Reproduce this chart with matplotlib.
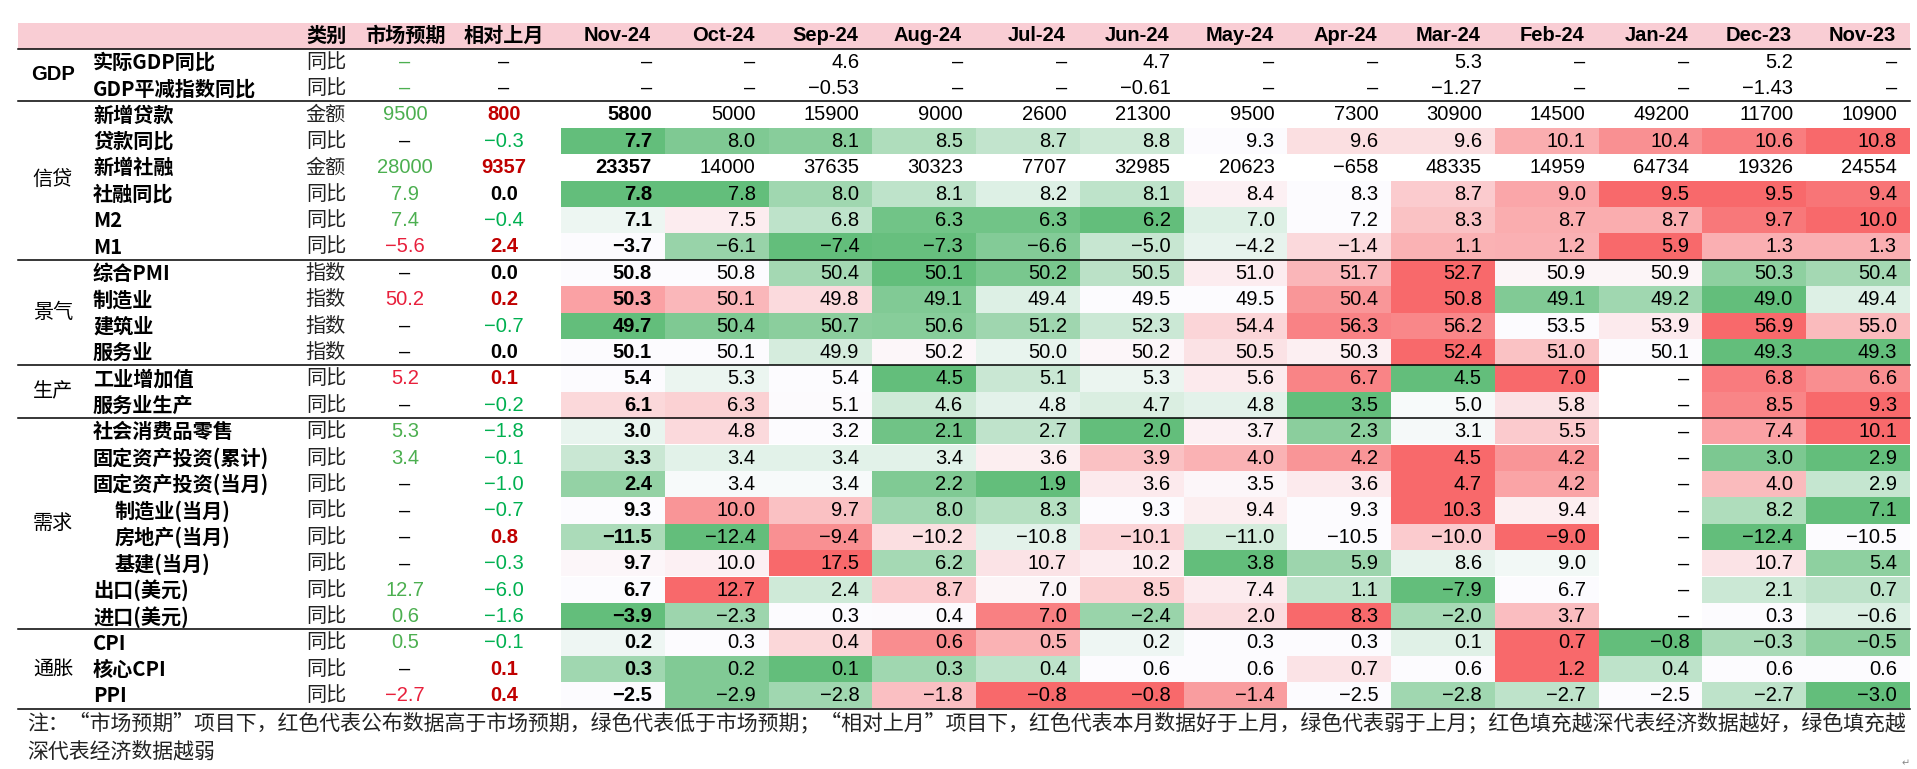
import numpy as np
import matplotlib
matplotlib.use("Agg")
import matplotlib.pyplot as plt
from matplotlib.patches import Rectangle
from matplotlib.colors import LinearSegmentedColormap, TwoSlopeNorm

plt.rcParams['font.family'] = ['Noto Sans CJK SC', 'DejaVu Sans']

# 表头月份
months = ["Nov-24", "Oct-24", "Sep-24", "Aug-24", "Jul-24", "Jun-24", "May-24",
          "Apr-24", "Mar-24", "Feb-24", "Jan-24", "Dec-23", "Nov-23"]

# 分组
group_names = ["GDP", "信贷", "景气", "生产", "需求", "通胀"]
group_sizes = [2, 6, 4, 2, 8, 3]

# 指标名称 / 类别
row_names = ["实际GDP同比", "GDP平减指数同比",
             "新增贷款", "贷款同比", "新增社融", "社融同比", "M2", "M1",
             "综合PMI", "制造业", "建筑业", "服务业",
             "工业增加值", "服务业生产",
             "社会消费品零售", "固定资产投资(累计)", "固定资产投资(当月)",
             "制造业(当月)", "房地产(当月)", "基建(当月)", "出口(美元)", "进口(美元)",
             "CPI", "核心CPI", "PPI"]
row_kinds = ["同比", "同比",
             "金额", "同比", "金额", "同比", "同比", "同比",
             "指数", "指数", "指数", "指数",
             "同比", "同比",
             "同比", "同比", "同比", "同比", "同比", "同比", "同比", "同比",
             "同比", "同比", "同比"]
sub_rows = ["制造业(当月)", "房地产(当月)", "基建(当月)"]

# 市场预期 / 相对上月
expect = ["–", "–",
          "9500", "–", "28000", "7.9", "7.4", "-5.6",
          "–", "50.2", "–", "–",
          "5.2", "–",
          "5.3", "3.4", "–", "–", "–", "–", "12.7", "0.6",
          "0.5", "–", "-2.7"]
mom = ["–", "–",
       "800", "-0.3", "9357", "0.0", "-0.4", "2.4",
       "0.0", "0.2", "-0.7", "0.0",
       "0.1", "-0.2",
       "-1.8", "-0.1", "-1.0", "-0.7", "0.8", "-0.3", "-6.0", "-1.6",
       "-0.1", "0.1", "0.4"]

# 各月数据 (Nov-24 ... Nov-23)
gdp_real = ["–", "–", "4.6", "–", "–", "4.7", "–", "–", "5.3", "–", "–", "5.2", "–"]
gdp_defl = ["–", "–", "-0.53", "–", "–", "-0.61", "–", "–", "-1.27", "–", "–", "-1.43", "–"]
new_loans = ["5800", "5000", "15900", "9000", "2600", "21300", "9500", "7300", "30900", "14500", "49200", "11700", "10900"]
loan_yoy = ["7.7", "8.0", "8.1", "8.5", "8.7", "8.8", "9.3", "9.6", "9.6", "10.1", "10.4", "10.6", "10.8"]
new_tsf = ["23357", "14000", "37635", "30323", "7707", "32985", "20623", "-658", "48335", "14959", "64734", "19326", "24554"]
tsf_yoy = ["7.8", "7.8", "8.0", "8.1", "8.2", "8.1", "8.4", "8.3", "8.7", "9.0", "9.5", "9.5", "9.4"]
m2 = ["7.1", "7.5", "6.8", "6.3", "6.3", "6.2", "7.0", "7.2", "8.3", "8.7", "8.7", "9.7", "10.0"]
m1 = ["-3.7", "-6.1", "-7.4", "-7.3", "-6.6", "-5.0", "-4.2", "-1.4", "1.1", "1.2", "5.9", "1.3", "1.3"]
pmi_comp = ["50.8", "50.8", "50.4", "50.1", "50.2", "50.5", "51.0", "51.7", "52.7", "50.9", "50.9", "50.3", "50.4"]
pmi_mfg = ["50.3", "50.1", "49.8", "49.1", "49.4", "49.5", "49.5", "50.4", "50.8", "49.1", "49.2", "49.0", "49.4"]
pmi_cons = ["49.7", "50.4", "50.7", "50.6", "51.2", "52.3", "54.4", "56.3", "56.2", "53.5", "53.9", "56.9", "55.0"]
pmi_serv = ["50.1", "50.1", "49.9", "50.2", "50.0", "50.2", "50.5", "50.3", "52.4", "51.0", "50.1", "49.3", "49.3"]
ind_va = ["5.4", "5.3", "5.4", "4.5", "5.1", "5.3", "5.6", "6.7", "4.5", "7.0", "–", "6.8", "6.6"]
serv_prod = ["6.1", "6.3", "5.1", "4.6", "4.8", "4.7", "4.8", "3.5", "5.0", "5.8", "–", "8.5", "9.3"]
retail = ["3.0", "4.8", "3.2", "2.1", "2.7", "2.0", "3.7", "2.3", "3.1", "5.5", "–", "7.4", "10.1"]
fai_ytd = ["3.3", "3.4", "3.4", "3.4", "3.6", "3.9", "4.0", "4.2", "4.5", "4.2", "–", "3.0", "2.9"]
fai_month = ["2.4", "3.4", "3.4", "2.2", "1.9", "3.6", "3.5", "3.6", "4.7", "4.2", "–", "4.0", "2.9"]
fai_mfg = ["9.3", "10.0", "9.7", "8.0", "8.3", "9.3", "9.4", "9.3", "10.3", "9.4", "–", "8.2", "7.1"]
fai_re = ["-11.5", "-12.4", "-9.4", "-10.2", "-10.8", "-10.1", "-11.0", "-10.5", "-10.0", "-9.0", "–", "-12.4", "-10.5"]
fai_infra = ["9.7", "10.0", "17.5", "6.2", "10.7", "10.2", "3.8", "5.9", "8.6", "9.0", "–", "10.7", "5.4"]
exports = ["6.7", "12.7", "2.4", "8.7", "7.0", "8.5", "7.4", "1.1", "-7.9", "6.7", "–", "2.1", "0.7"]
imports = ["-3.9", "-2.3", "0.3", "0.4", "7.0", "-2.4", "2.0", "8.3", "-2.0", "3.7", "–", "0.3", "-0.6"]
cpi = ["0.2", "0.3", "0.4", "0.6", "0.5", "0.2", "0.3", "0.3", "0.1", "0.7", "-0.8", "-0.3", "-0.5"]
core_cpi = ["0.3", "0.2", "0.1", "0.3", "0.4", "0.6", "0.6", "0.7", "0.6", "1.2", "0.4", "0.6", "0.6"]
ppi = ["-2.5", "-2.9", "-2.8", "-1.8", "-0.8", "-0.8", "-1.4", "-2.5", "-2.8", "-2.7", "-2.5", "-2.7", "-3.0"]

table = [gdp_real, gdp_defl, new_loans, loan_yoy, new_tsf, tsf_yoy, m2, m1,
         pmi_comp, pmi_mfg, pmi_cons, pmi_serv, ind_va, serv_prod,
         retail, fai_ytd, fai_month, fai_mfg, fai_re, fai_infra, exports, imports,
         cpi, core_cpi, ppi]

note1 = ("注：“市场预期”项目下，红色代表公布数据高于市场预期，绿色代表低于市场预期；"
         "“相对上月”项目下，红色代表本月数据好于上月，绿色代表弱于上月；红色填充越深代表经济数据越好，绿色填充越")
note2 = "深代表经济数据越弱"


def num(s):
    return None if s == "–" else float(s)


def show(s):
    return s.replace("-", "−")


# excel 风格 绿-白-红 色阶
cmap = LinearSegmentedColormap.from_list("gwr", ["#63BE7B", "#FCFCFF", "#F8696B"])

W, H = 1917, 769
fig = plt.figure(figsize=(W / 100, H / 100), dpi=100)
ax = fig.add_axes([0, 0, 1, 1])
ax.set_xlim(0, W)
ax.set_ylim(H, 0)
ax.axis('off')

left, right = 18, 1910
head_top, head_h = 22.5, 26.0
row_h = 26.4
body_top = head_top + head_h
col0 = 561
col_w = (right - col0) / len(months)
x_group, x_name, x_kind, x_exp, x_mom = 53, 93, 326, 405, 504

num_font = ['Liberation Sans', 'Noto Sans CJK SC']
fs = 14.5

# 表头
ax.add_patch(Rectangle((left, head_top), right - left, head_h, color="#F9CDD4", lw=0))
hy = head_top + head_h / 2
for x, t in [(x_kind, "类别"), (x_exp, "市场预期"), (x_mom, "相对上月")]:
    ax.text(x, hy, t, ha='center', va='center', fontsize=14.5, fontweight='bold')
for j, m in enumerate(months):
    ax.text(col0 + (j + 1) * col_w - 14, hy, m, ha='right', va='center',
            fontsize=fs, fontweight='bold', family=num_font)

# 分组
i0 = 0
ax.plot([left, right], [body_top, body_top], color='black', lw=1.1)
for g, n in zip(group_names, group_sizes):
    yc = body_top + (i0 + n / 2) * row_h
    ax.text(x_group, yc, g, ha='center', va='center', fontsize=14.5,
            fontweight='bold' if g == "GDP" else 'light',
            family=num_font if g == "GDP" else None)
    i0 += n
    yb = body_top + i0 * row_h
    ax.plot([left, right], [yb, yb], color='black', lw=1.1)

row_group = [g for g, n in zip(group_names, group_sizes) for _ in range(n)]

for i, name in enumerate(row_names):
    top = body_top + i * row_h
    yc = top + row_h / 2 + 0.5
    vals = table[i]
    nums = [num(v) for v in vals]

    ax.text(x_name + (22 if name in sub_rows else 0), yc, name, ha='left', va='center',
            fontsize=14.5, fontweight='bold')
    ax.text(x_kind, yc, row_kinds[i], ha='center', va='center', fontsize=14.5,
            fontweight='light', color='#222222')

    # 市场预期: 高于预期红, 低于预期绿
    e = num(expect[i])
    if e is None:
        ec = '#4CAF50' if row_group[i] == "GDP" else 'black'
    else:
        ec = '#E8203C' if nums[0] > e else '#4CAF50'
    ax.text(x_exp, yc, show(expect[i]), ha='center', va='center', fontsize=fs,
            color=ec, family=num_font)

    # 相对上月
    d = num(mom[i])
    if d is None or d == 0:
        mc = 'black'
    else:
        mc = '#C00000' if d > 0 else '#00B050'
    ax.text(x_mom, yc, show(mom[i]), ha='center', va='center', fontsize=fs,
            color=mc, family=num_font,
            fontweight='bold' if (d is not None and d >= 0) else 'normal')

    heat = row_group[i] != "GDP" and row_kinds[i] != "金额"
    valid = [v for v in nums if v is not None]
    norm = TwoSlopeNorm(vmin=min(valid), vcenter=float(np.median(valid)), vmax=max(valid)) if heat else None

    for j, v in enumerate(nums):
        x = col0 + j * col_w
        if heat and v is not None:
            ax.add_patch(Rectangle((x, top), col_w, row_h, color=cmap(norm(v)), lw=0))
        ax.text(x + col_w - 13, yc, show(vals[j]), ha='right', va='center', fontsize=fs,
                fontweight='bold' if (j == 0 and v is not None) else 'normal', family=num_font)

# 注释
bottom = body_top + len(row_names) * row_h
ax.text(27, bottom + 15, note1, ha='left', va='center', fontsize=15.05, color='#222222',
        fontweight='light')
ax.text(27, bottom + 43, note2, ha='left', va='center', fontsize=15.05, color='#222222',
        fontweight='light')
ax.text(1906, 763, "↵", ha='center', va='center', fontsize=7, color='#888888',
        family=['DejaVu Sans'])

fig.savefig("out.png", dpi=100)
